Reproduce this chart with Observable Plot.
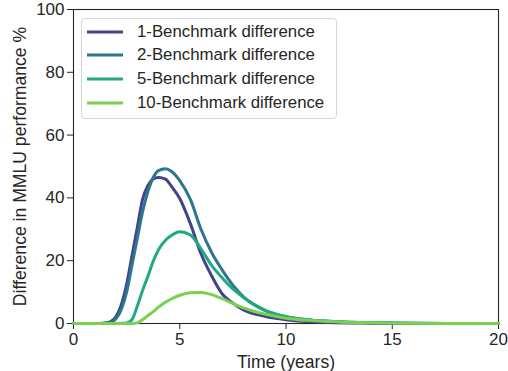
<!DOCTYPE html>
<html><head><meta charset="utf-8">
<script src="https://cdn.jsdelivr.net/npm/d3@7"></script>
<script src="https://cdn.jsdelivr.net/npm/@observablehq/plot@0.6"></script>
<style>
body{margin:0;background:#fff;}
#wrap{position:relative;width:508px;height:371px;font-family:"Liberation Sans",Arial,sans-serif;}
#legend{position:absolute;left:81px;top:18px;width:256px;height:101px;border:1px solid #d5d5d5;border-radius:4px;background:rgba(255,255,255,0.8);box-sizing:border-box;}
.item{position:absolute;left:5px;height:24px;display:flex;align-items:center;font-size:16.8px;color:#262626;white-space:nowrap;}
.item svg{margin-right:14px;}
g[aria-label="y-axis label"] text, g[aria-label="x-axis label"] text{font-size:17.6px;}
</style></head>
<body>
<div id="wrap"><div id="chart"></div><div id="legend"></div></div>
<script>
const seriesNames = ["1-Benchmark difference","2-Benchmark difference","5-Benchmark difference","10-Benchmark difference"];
const seriesColors = ["#414487","#2a788e","#22a884","#7ad151"];
const time = [0,1,1.5,1.75,2,2.25,2.5,2.75,3,3.25,3.5,3.75,4,4.33,4.6,5,5.5,6,6.5,7,7.5,8,9,10,11,12,14,16,18,20];
const bench1 = [0,0,0.2,0.6,2.2,6,12.5,21.5,30.5,39.5,44,46,46.5,46,43.8,39.8,31.8,22.2,15.2,9.4,6.5,4.3,2.3,1.2,0.6,0.3,0.1,0,0,0];
const bench2 = [0,0,0.1,0.4,1.5,4.5,10,18.5,27,35.5,42,46.5,48.7,49.3,48.5,45.5,39.5,30,22.6,17,12.2,8.5,4.2,2.2,1.2,0.7,0.2,0.1,0,0];
const bench5 = [0,0,0,0,0,0.05,0.2,1.2,5.5,10.5,15,19.8,23.5,26.5,28,29.2,28.2,23.8,18.5,14.5,11,8.3,4.3,2.2,1.2,0.7,0.2,0.1,0,0];
const bench10 = [0,0,0,0,0,0,0,0,0.2,1.2,2.5,3.8,5.2,6.8,7.8,9,9.8,9.9,9.2,7.9,6.4,5,3,1.7,1,0.6,0.2,0.05,0,0];
const yTicks = [0,20,40,60,80,100];
const xTicks = [0,5,10,15,20];

const allSeries = [bench1, bench2, bench5, bench10];
const data = [];
allSeries.forEach((vals, i) => vals.forEach((v, j) => data.push({series: seriesNames[i], t: time[j], v})));

const chart = Plot.plot({
  width: 508, height: 371,
  marginLeft: 73, marginRight: 10, marginTop: 9, marginBottom: 48,
  style: {fontFamily: '"Liberation Sans", Arial, sans-serif', fontSize: "17px", color: "#262626", background: "white"},
  x: {domain: [0, 20], ticks: xTicks, tickFormat: d => String(d), label: "Time (years)", labelAnchor: "center", labelArrow: false, tickSize: 6, tickPadding: 3, labelOffset: 44},
  y: {domain: [0, 100], ticks: yTicks, tickFormat: d => String(d), label: "Difference in MMLU performance %", labelAnchor: "center", labelArrow: false, tickSize: 6, tickPadding: 3, labelOffset: 60},
  color: {domain: seriesNames, range: seriesColors},
  marks: [
    Plot.frame({stroke: "#262626", strokeWidth: 1.1}),
    Plot.line(data, {x: "t", y: "v", z: "series", stroke: "series", strokeWidth: 3, curve: "monotone-x"})
  ]
});
document.getElementById("chart").appendChild(chart);

const legend = document.getElementById("legend");
const centers = [12.5, 36.3, 60, 83.8];
seriesNames.forEach((name, i) => {
  const item = document.createElement("div");
  item.className = "item";
  item.style.top = (centers[i] - 12) + "px";
  item.innerHTML = `<svg width="36" height="24"><line x1="0" x2="36" y1="12" y2="12" stroke="${seriesColors[i]}" stroke-width="3"/></svg><span>${name}</span>`;
  legend.appendChild(item);
});
</script>
</body></html>
